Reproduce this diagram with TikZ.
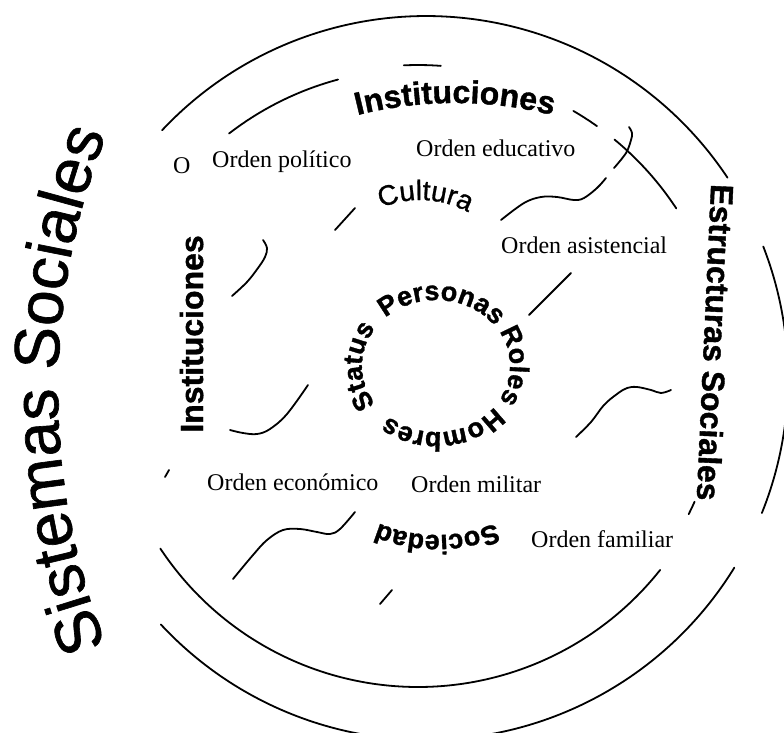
\documentclass[tikz,border=0pt]{standalone}
\usepackage{fontspec}
\setmainfont{Liberation Serif}
\setsansfont{Liberation Sans}
\newfontfamily\heavysans{Liberation Sans Bold}[FakeBold=1.2]
\newfontfamily\plainsans{Liberation Sans}[FakeBold=1]
\usetikzlibrary{decorations.text}
\begin{document}
\begin{tikzpicture}[x=1pt,y=1pt,
  ring/.style={line width=1.8pt, line cap=round, line join=round},
  orden/.style={font=\fontsize{24}{24}\selectfont, anchor=base west, inner sep=0pt},
  bigsans/.style={font=\heavysans\fontsize{32}{32}\selectfont, inner sep=0pt, anchor=base},
]
\useasboundingbox (0,0) rectangle (784,-732);

% centres of the rings
\coordinate (outerc) at (426,-378);
\coordinate (midc) at (418,-378);

% outer ring, broken in three pieces
\draw[ring] (outerc) ++(136.8:362) arc[start angle=136.8, end angle=33.6, radius=362];
\draw[ring] (outerc) ++(21.3:362) arc[start angle=21.3, end angle=-21.9, radius=362];
\draw[ring] (outerc) ++(222.9:362) arc[start angle=222.9, end angle=328.4, radius=362];

% second ring (institutions / social structures)
\draw[ring] (midc) ++(127.7:309) arc[start angle=127.7, end angle=105, radius=309];
\draw[ring] (midc) ++(92.6:313) arc[start angle=92.6, end angle=85.8, radius=313];
\draw[ring] (midc) ++(59.8:309) arc[start angle=59.8, end angle=54.6, radius=309];
\draw[ring] (midc) ++(50.5:309) arc[start angle=50.5, end angle=33.3, radius=309];
\draw[ring] (midc) ++(-24.1:303) arc[start angle=-24.1, end angle=-26.7, radius=303];
\draw[ring] (midc) ++(213.5:309) arc[start angle=213.5, end angle=321.6, radius=309];

% wavy borders between the orders
\draw[ring] plot[smooth, tension=0.6] coordinates {(501,-220) (524,-203) (541,-197) (557,-197) (574,-200) (584,-198) (597,-188) (606,-178)};
\draw[ring] plot[smooth, tension=0.6] coordinates {(614,-168) (626,-153) (631,-140) (632,-133) (629,-127)};
\draw[ring] (335,-230) -- (355,-208);
\draw[ring] plot[smooth, tension=0.6] coordinates {(232,-296) (247,-282) (258,-268) (265,-257) (267,-248) (263,-240)};
\draw[ring] (529,-315) -- (571,-273);
\draw[ring] plot[smooth, tension=0.6] coordinates {(230,-430) (243,-433) (257,-434) (270,-429) (287,-414) (308,-385)};
\draw[ring] plot[smooth, tension=0.6] coordinates {(576,-437) (591,-422) (604,-405) (617,-394) (627,-388) (637,-387) (651,-390) (661,-393) (671,-390)};
\draw[ring] plot[smooth, tension=0.6] coordinates {(233,-579) (253,-555) (267,-540) (283,-530) (300,-529) (317,-532) (330,-534) (340,-529) (355,-512)};
\draw[ring] (380,-604) -- (392,-590);
\draw[ring] (165,-477) -- (169,-470);

% title on the far left
\path[decorate, decoration={text along path, text align=center,
  text={|\plainsans\fontsize{64}{64}\selectfont|Sistemas Sociales}}]
  (758,-390) ++(205:700) arc[start angle=205, end angle=155, radius=700];

% second ring labels
\path[decorate, decoration={text along path, text align=center,
  text={|\heavysans\fontsize{32}{32}\selectfont|Instituciones}}]
  (455,-503) ++(110:400) arc[start angle=110, end angle=70, radius=400];
\node[bigsans, rotate=90] (instizq) at (203,-334) {Instituciones};
\node[bigsans, rotate=-92.6] (estructuras) at (704,-342) {Estructuras Sociales};

% middle ring labels
\path[decorate, decoration={text along path, text align=center,
  text={|\plainsans\fontsize{28}{28}\selectfont|Cultura}}]
  (420,-300) ++(137:100) arc[start angle=137, end angle=37, radius=100];
\path[decorate, decoration={text along path, text align=center,
  text={|\heavysans\fontsize{27}{27}\selectfont|Sociedad}}]
  (437,-385) ++(310:150) arc[start angle=310, end angle=230, radius=150];

% inner ring labels
\path[decorate, decoration={text along path, text align=center,
  text={|\heavysans\fontsize{27}{27}\selectfont|Personas}}]
  (436,-366) ++(140:74 and 66) arc[start angle=140, end angle=30, x radius=74, y radius=66];
\path[decorate, decoration={text along path, text align=center,
  text={|\heavysans\fontsize{27}{27}\selectfont|Roles}}]
  (436,-366) ++(50:74 and 66) arc[start angle=50, end angle=-50, x radius=74, y radius=66];
\path[decorate, decoration={text along path, text align=center,
  text={|\heavysans\fontsize{27}{27}\selectfont|Hombres}}]
  (436,-366) ++(336:74 and 66) arc[start angle=336, end angle=216, x radius=74, y radius=66];
\path[decorate, decoration={text along path, text align=center,
  text={|\heavysans\fontsize{27}{27}\selectfont|Status}}]
  (436,-366) ++(240:74 and 66) arc[start angle=240, end angle=120, x radius=74, y radius=66];

% the orders
\node[orden] (letra) at (173,-173) {O};
\node[orden] (politico) at (212,-167) {Orden político};
\node[orden] (educativo) at (416,-156) {Orden educativo};
\node[orden] (asistencial) at (501,-253) {Orden asistencial};
\node[orden] (economico) at (207,-490) {Orden económico};
\node[orden] (militar) at (411,-492) {Orden militar};
\node[orden] (familiar) at (531,-547) {Orden familiar};
\end{tikzpicture}
\end{document}
